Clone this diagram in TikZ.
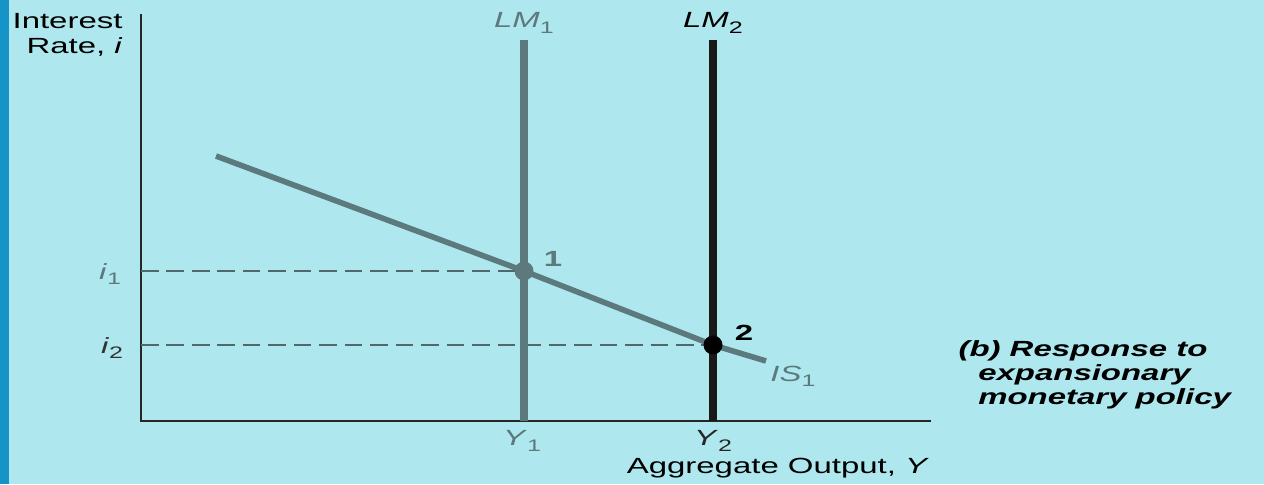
\documentclass[tikz,border=0pt]{standalone}
\usepackage{fontspec}
\setmainfont{Liberation Sans}
\definecolor{bgcyan}{RGB}{174,232,238}
\definecolor{stripblue}{RGB}{22,148,200}
\definecolor{curvegray}{RGB}{92,122,125}
\definecolor{dashgray}{RGB}{80,104,108}
\newcommand{\lowsub}[1]{\raisebox{-0.45ex}{\fontsize{9.5}{10}\selectfont\upshape #1}}

\begin{document}
\begin{tikzpicture}[x=0.02cm, y=-0.02cm,
    lbl/.style={font=\fontsize{12.5}{14.2}\selectfont, xscale=1.5, inner sep=0pt},
    dot/.style={circle, inner sep=0pt, minimum size=0.38cm},
    guide/.style={dashgray, line width=0.8pt, dash pattern=on 10pt off 4.5pt}]
    % background and side strip
    \fill[bgcyan] (0,0) rectangle (1264,484);
    \fill[stripblue] (0,0) rectangle (9,484);

    % axes
    \coordinate (origin) at (141,421);
    \coordinate (ytop) at (141,14);
    \coordinate (xend) at (931,421);
    \draw[line width=1.1pt, black!85] (ytop) -- (origin) -- (xend);

    % equilibrium points
    \coordinate (e1) at (524,271);
    \coordinate (e2) at (713,345);
    \coordinate (i1) at (141,271);
    \coordinate (i2) at (141,345);

    % dashed guides
    \draw[guide] (i1) -- (e1);
    \draw[guide] (i2) -- (e2);

    % LM curves
    \coordinate (lm1top) at (524,40);
    \coordinate (y1) at (524,421);
    \coordinate (lm2top) at (713,40);
    \coordinate (y2) at (713,421);
    \draw[curvegray, line width=4pt] (lm1top) -- (y1);
    \draw[black!90, line width=4pt] (lm2top) -- (y2);

    % IS curve
    \coordinate (isstart) at (216,156);
    \coordinate (isend) at (766,361);
    \draw[curvegray, line width=3.2pt] (isstart) -- (e1) -- (e2) -- (isend);

    \node[dot, fill=curvegray] (p1) at (e1) {};
    \node[dot, fill=black] (p2) at (e2) {};

    % curve and point labels
    \node[lbl, text=curvegray] (lm1lbl) at (524,23) {\textit{LM}\lowsub{1}};
    \node[lbl, text=black] (lm2lbl) at (713,23) {\textit{LM}\lowsub{2}};
    \node[lbl, text=curvegray] (islbl) at (793,376) {\textit{IS}\lowsub{1}};
    \node[lbl, text=curvegray, font=\fontsize{12.5}{14}\bfseries] (n1) at (553,259) {1};
    \node[lbl, font=\fontsize{12.5}{14}\bfseries] (n2) at (744,333) {2};

    % axis values
    \node[lbl, text=curvegray] (i1lbl) at (110,274) {\textit{i}\lowsub{1}};
    \node[lbl, text=black!80] (i2lbl) at (112,348) {\textit{i}\lowsub{2}};
    \node[lbl, text=curvegray] (y1lbl) at (522,441) {\textit{Y}\lowsub{1}};
    \node[lbl, text=black!85] (y2lbl) at (713,441) {\textit{Y}\lowsub{2}};

    % axis titles
    \node[lbl, align=right, anchor=north east] (ytitle) at (123,13) {Interest\\Rate, \textit{i}};
    \node[lbl] (xtitle) at (778,468) {Aggregate Output, \textit{Y}};

    % caption
    \node[lbl, align=left, anchor=north west, font=\fontsize{12.5}{13.6}\selectfont\bfseries\itshape] (caption) at (958,340)
        {(b) Response to\\\hspace*{0.6em}expansionary\\\hspace*{0.6em}monetary policy};
\end{tikzpicture}
\end{document}
